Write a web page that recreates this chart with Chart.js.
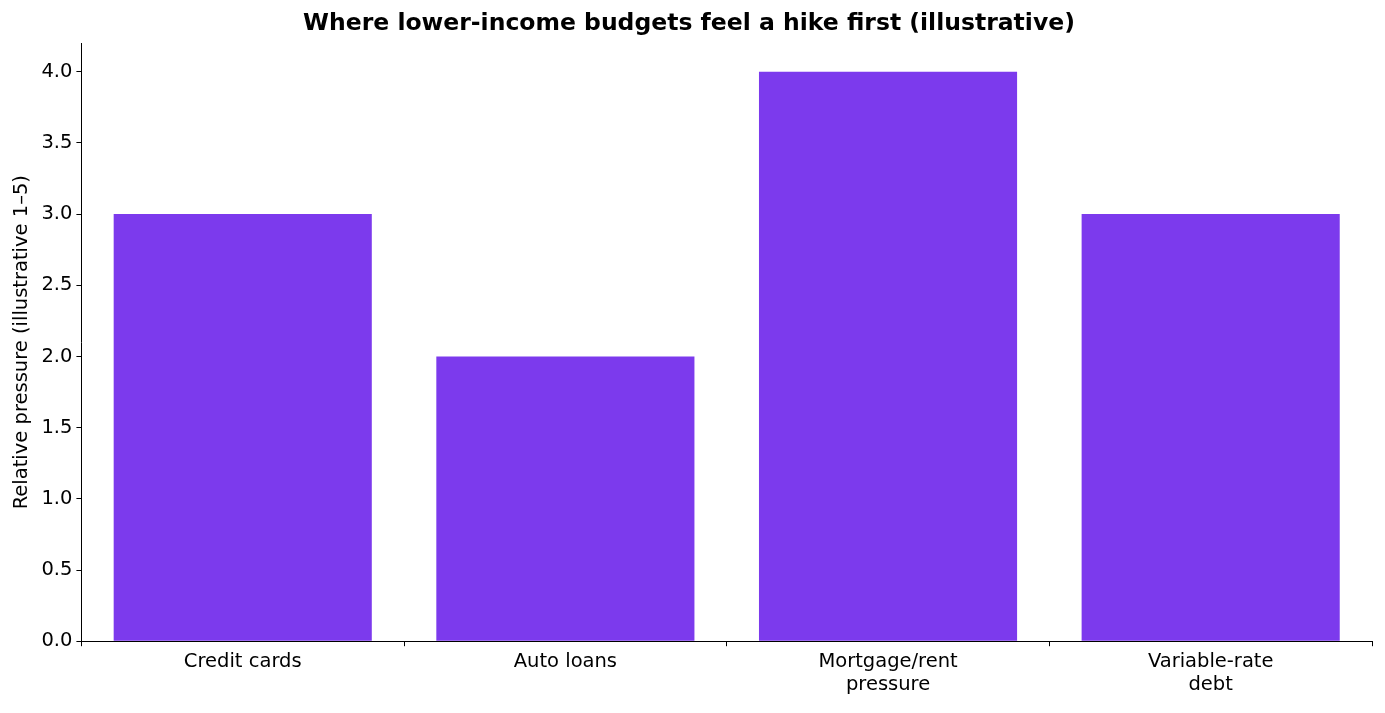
<!DOCTYPE html>
<html><head><meta charset="utf-8">
<script src="https://cdn.jsdelivr.net/npm/chart.js@4"></script>
<style>html,body{margin:0;padding:0;background:#fff}#w{width:1385px;height:713px}</style>
</head><body><div id="w"><canvas id="c"></canvas></div>
<script>
const categories = [["Credit cards"], ["Auto loans"], ["Mortgage/rent","pressure"], ["Variable-rate","debt"]];
const values = [3, 2, 4, 3];
const yTicks = [0,0.5,1,1.5,2,2.5,3,3.5,4];
Chart.defaults.font.family = "DejaVu Sans";
Chart.defaults.color = "#000";
new Chart(document.getElementById('c'), {
  type: 'bar',
  data: { labels: categories, datasets: [{ data: values, backgroundColor: '#7c3aed', categoryPercentage: 0.8, barPercentage: 1 }] },
  options: {
    responsive: true, maintainAspectRatio: false, animation: false,
    layout: { padding: { left: 6, right: 13, top: 6, bottom: 12 } },
    plugins: { legend: { display: false }, tooltip: { enabled: false },
      title: { display: true, text: 'Where lower-income budgets feel a hike first (illustrative)', font: { size: 23.5, weight: 'bold' }, padding: { top: 4, bottom: 5 } } },
    scales: {
      x: { grid: { drawOnChartArea: false, drawTicks: true, tickLength: 5, color: '#000' }, border: { color: '#000' },
           ticks: { font: { size: 19.5 }, padding: 4, maxRotation: 0 } },
      y: { min: 0, max: 4.2, grid: { drawOnChartArea: false, drawTicks: true, tickLength: 5, color: '#000' }, border: { color: '#000' },
           afterBuildTicks: a => { a.ticks = yTicks.map(v => ({ value: v })); },
           ticks: { font: { size: 19.5 }, padding: 4, callback: v => Number(v).toFixed(1) },
           title: { display: true, text: 'Relative pressure (illustrative 1–5)', font: { size: 19.5 }, padding: { bottom: 4 } } }
    }
  }
});
</script></body></html>
